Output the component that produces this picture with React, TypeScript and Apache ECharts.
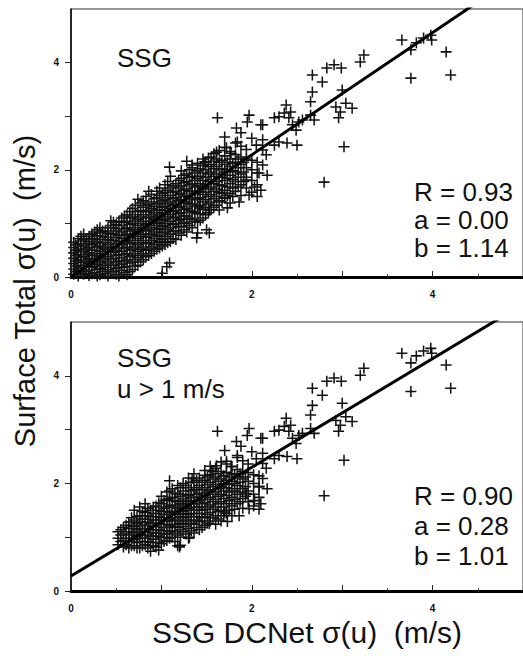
import React, { useEffect, useRef } from "react";
import * as echarts from "echarts";

// ---- data ----
// Dense cloud of the upper panel (all SSG samples), [DCNet sigma(u), Surface total sigma(u)]
const TOP_CLOUD: number[][] = [
  [0.03, 0.05], [0.03, 0.15], [0.03, 0.25], [0.03, 0.35], [0.03, 0.45], [0.03, 0.55], [0.03, 0.65],
  [0.08, 0.02], [0.08, 0.12], [0.08, 0.22], [0.08, 0.32], [0.08, 0.42], [0.08, 0.52], [0.08, 0.62], [0.08, 0.72],
  [0.14, 0.05], [0.14, 0.18], [0.14, 0.28], [0.14, 0.38], [0.14, 0.48], [0.14, 0.58], [0.14, 0.7], [0.14, 0.8],
  [0.2, 0.03], [0.2, 0.13], [0.2, 0.25], [0.2, 0.35], [0.2, 0.45], [0.2, 0.55], [0.2, 0.66], [0.2, 0.76],
  [0.26, 0.08], [0.26, 0.2], [0.26, 0.3], [0.26, 0.4], [0.26, 0.5], [0.26, 0.62], [0.26, 0.72], [0.26, 0.84],
  [0.32, 0.04], [0.32, 0.16], [0.32, 0.28], [0.32, 0.38], [0.32, 0.48], [0.32, 0.58], [0.32, 0.7], [0.32, 0.82], [0.32, 0.92],
  [0.38, 0.06], [0.38, 0.18], [0.38, 0.3], [0.38, 0.42], [0.38, 0.52], [0.38, 0.64], [0.38, 0.74], [0.38, 0.86],
  [0.44, 0.1], [0.44, 0.22], [0.44, 0.34], [0.44, 0.46], [0.44, 0.56], [0.44, 0.68], [0.44, 0.8], [0.44, 0.96], [0.44, 1.05],
  [0.5, 0.05], [0.5, 0.16], [0.5, 0.28], [0.5, 0.4], [0.5, 0.5], [0.5, 0.62], [0.5, 0.74], [0.5, 0.86], [0.5, 0.98],
  [0.56, 0.12], [0.56, 0.24], [0.56, 0.36], [0.56, 0.48], [0.56, 0.6], [0.56, 0.72], [0.56, 0.84], [0.56, 0.96], [0.56, 1.1],
  [0.62, 0.04], [0.62, 0.2], [0.62, 0.32], [0.62, 0.44], [0.62, 0.56], [0.62, 0.68], [0.62, 0.8], [0.62, 0.92], [0.62, 1.04], [0.62, 1.16],
  [0.68, 0.14], [0.68, 0.28], [0.68, 0.4], [0.68, 0.52], [0.68, 0.64], [0.68, 0.76], [0.68, 0.88], [0.68, 1.0], [0.68, 1.12], [0.68, 1.28],
  [0.74, 0.22], [0.74, 0.36], [0.74, 0.48], [0.74, 0.6], [0.74, 0.72], [0.74, 0.84], [0.74, 0.96], [0.74, 1.08], [0.74, 1.22], [0.74, 1.45],
  [0.8, 0.32], [0.8, 0.44], [0.8, 0.56], [0.8, 0.68], [0.8, 0.8], [0.8, 0.92], [0.8, 1.04], [0.8, 1.16], [0.8, 1.3], [0.8, 1.42],
  [0.86, 0.4], [0.86, 0.52], [0.86, 0.64], [0.86, 0.76], [0.86, 0.88], [0.86, 1.0], [0.86, 1.12], [0.86, 1.24], [0.86, 1.36], [0.86, 1.6],
  [0.92, 0.48], [0.92, 0.6], [0.92, 0.72], [0.92, 0.84], [0.92, 0.96], [0.92, 1.08], [0.92, 1.2], [0.92, 1.32], [0.92, 1.46],
  [0.98, 0.54], [0.98, 0.66], [0.98, 0.78], [0.98, 0.9], [0.98, 1.02], [0.98, 1.14], [0.98, 1.26], [0.98, 1.38], [0.98, 1.52], [0.98, 1.66],
  [1.04, 0.6], [1.04, 0.72], [1.04, 0.84], [1.04, 0.96], [1.04, 1.08], [1.04, 1.2], [1.04, 1.32], [1.04, 1.44], [1.04, 1.58], [1.04, 1.72],
  [1.1, 0.66], [1.1, 0.8], [1.1, 0.92], [1.1, 1.04], [1.1, 1.16], [1.1, 1.28], [1.1, 1.4], [1.1, 1.52], [1.1, 1.66], [1.1, 1.88],
  [1.16, 0.7], [1.16, 0.86], [1.16, 1.0], [1.16, 1.12], [1.16, 1.24], [1.16, 1.36], [1.16, 1.48], [1.16, 1.6], [1.16, 1.74],
  [1.22, 0.78], [1.22, 0.94], [1.22, 1.08], [1.22, 1.2], [1.22, 1.32], [1.22, 1.44], [1.22, 1.56], [1.22, 1.7], [1.22, 1.84], [1.22, 1.98],
  [1.28, 0.84], [1.28, 1.0], [1.28, 1.14], [1.28, 1.28], [1.28, 1.4], [1.28, 1.52], [1.28, 1.64], [1.28, 1.78], [1.28, 1.92], [1.28, 2.16],
  [1.34, 0.92], [1.34, 1.08], [1.34, 1.22], [1.34, 1.36], [1.34, 1.48], [1.34, 1.6], [1.34, 1.74], [1.34, 1.88], [1.34, 2.04],
  [1.4, 0.82], [1.4, 1.02], [1.4, 1.18], [1.4, 1.32], [1.4, 1.46], [1.4, 1.58], [1.4, 1.7], [1.4, 1.84], [1.4, 1.98], [1.4, 2.12],
  [1.46, 1.1], [1.46, 1.26], [1.46, 1.4], [1.46, 1.54], [1.46, 1.66], [1.46, 1.8], [1.46, 1.94], [1.46, 2.08], [1.46, 2.2],
  [1.52, 1.2], [1.52, 1.36], [1.52, 1.5], [1.52, 1.64], [1.52, 1.78], [1.52, 1.92], [1.52, 2.06], [1.52, 2.22],
  [1.58, 1.3], [1.58, 1.46], [1.58, 1.6], [1.58, 1.74], [1.58, 1.88], [1.58, 2.02], [1.58, 2.16], [1.58, 2.3],
  [1.64, 1.25], [1.64, 1.42], [1.64, 1.58], [1.64, 1.72], [1.64, 1.86], [1.64, 2.0], [1.64, 2.14], [1.64, 2.36],
  [1.7, 1.48], [1.7, 1.62], [1.7, 1.8], [1.7, 1.96], [1.7, 2.1], [1.7, 2.26], [1.7, 2.42],
  [1.76, 1.38], [1.76, 1.56], [1.76, 1.74], [1.76, 1.9], [1.76, 2.06], [1.76, 2.2], [1.76, 2.34],
  [1.82, 1.6], [1.82, 1.78], [1.82, 1.96], [1.82, 2.14], [1.82, 2.28], [1.82, 2.5],
  [1.88, 1.52], [1.88, 1.72], [1.88, 1.92], [1.88, 2.1], [1.88, 2.24], [1.88, 2.44],
  [1.94, 1.66], [1.94, 1.86], [1.94, 2.04], [1.94, 2.2], [1.94, 2.38],
  [2.0, 1.58], [2.0, 1.8], [2.0, 2.0], [2.0, 2.18],
  [2.06, 1.5], [2.06, 1.72], [2.06, 1.94], [2.06, 2.14],
  [1.01, 0.07], [1.06, 0.19], [1.09, 0.26], [1.39, 0.73], [1.5, 0.88], [1.53, 0.82],
];

// Interleaved samples filling the dark core of the upper panel
const TOP_CORE: number[][] = [
  [0.05, 0.1], [0.05, 0.2], [0.05, 0.3], [0.05, 0.4], [0.05, 0.5], [0.05, 0.6],
  [0.11, 0.07], [0.11, 0.17], [0.11, 0.27], [0.11, 0.37], [0.11, 0.47], [0.11, 0.57], [0.11, 0.67], [0.11, 0.76],
  [0.17, 0.1], [0.17, 0.22], [0.17, 0.32], [0.17, 0.42], [0.17, 0.52], [0.17, 0.62], [0.17, 0.72],
  [0.23, 0.06], [0.23, 0.18], [0.23, 0.3], [0.23, 0.4], [0.23, 0.5], [0.23, 0.6], [0.23, 0.7], [0.23, 0.8],
  [0.29, 0.02], [0.29, 0.14], [0.29, 0.24], [0.29, 0.34], [0.29, 0.44], [0.29, 0.56], [0.29, 0.66], [0.29, 0.77], [0.29, 0.88],
  [0.35, 0.1], [0.35, 0.22], [0.35, 0.34], [0.35, 0.44], [0.35, 0.54], [0.35, 0.64], [0.35, 0.76], [0.35, 0.86],
  [0.41, 0.02], [0.41, 0.14], [0.41, 0.26], [0.41, 0.38], [0.41, 0.48], [0.41, 0.6], [0.41, 0.7], [0.41, 0.82], [0.41, 0.92],
  [0.47, 0.1], [0.47, 0.22], [0.47, 0.34], [0.47, 0.46], [0.47, 0.56], [0.47, 0.68], [0.47, 0.8], [0.47, 0.92], [0.47, 1.02],
  [0.53, 0.02], [0.53, 0.18], [0.53, 0.3], [0.53, 0.42], [0.53, 0.54], [0.53, 0.66], [0.53, 0.78], [0.53, 0.9], [0.53, 1.04],
  [0.59, 0.08], [0.59, 0.18], [0.59, 0.3], [0.59, 0.42], [0.59, 0.54], [0.59, 0.66], [0.59, 0.78], [0.59, 0.9], [0.59, 1.02], [0.59, 1.14],
  [0.65, 0.1], [0.65, 0.26], [0.65, 0.38], [0.65, 0.5], [0.65, 0.62], [0.65, 0.74], [0.65, 0.86], [0.65, 0.98], [0.65, 1.1], [0.65, 1.22],
  [0.71, 0.2], [0.71, 0.32], [0.71, 0.44], [0.71, 0.56], [0.71, 0.68], [0.71, 0.8], [0.71, 0.92], [0.71, 1.04], [0.71, 1.16], [0.71, 1.34],
  [0.77, 0.28], [0.77, 0.4], [0.77, 0.52], [0.77, 0.64], [0.77, 0.76], [0.77, 0.88], [0.77, 1.0], [0.77, 1.12], [0.77, 1.24], [0.77, 1.38],
  [0.83, 0.38], [0.83, 0.5], [0.83, 0.62], [0.83, 0.74], [0.83, 0.86], [0.83, 0.98], [0.83, 1.1], [0.83, 1.22], [0.83, 1.34], [0.83, 1.5],
  [0.89, 0.44], [0.89, 0.56], [0.89, 0.68], [0.89, 0.8], [0.89, 0.92], [0.89, 1.04], [0.89, 1.16], [0.89, 1.28], [0.89, 1.4], [0.89, 1.54],
  [0.95, 0.52], [0.95, 0.64], [0.95, 0.76], [0.95, 0.88], [0.95, 1.0], [0.95, 1.12], [0.95, 1.24], [0.95, 1.36], [0.95, 1.48], [0.95, 1.6],
  [1.01, 0.58], [1.01, 0.7], [1.01, 0.82], [1.01, 0.94], [1.01, 1.06], [1.01, 1.18], [1.01, 1.3], [1.01, 1.42], [1.01, 1.56],
  [1.07, 0.64], [1.07, 0.76], [1.07, 0.88], [1.07, 1.0], [1.07, 1.12], [1.07, 1.24], [1.07, 1.36], [1.07, 1.48], [1.07, 1.62], [1.07, 1.78],
  [1.13, 0.72], [1.13, 0.86], [1.13, 0.98], [1.13, 1.1], [1.13, 1.22], [1.13, 1.34], [1.13, 1.46], [1.13, 1.58], [1.13, 1.7],
  [1.19, 0.82], [1.19, 0.94], [1.19, 1.06], [1.19, 1.18], [1.19, 1.3], [1.19, 1.42], [1.19, 1.54], [1.19, 1.66], [1.19, 1.8],
  [1.25, 0.88], [1.25, 1.02], [1.25, 1.14], [1.25, 1.26], [1.25, 1.38], [1.25, 1.5], [1.25, 1.62], [1.25, 1.76], [1.25, 1.9],
  [1.31, 0.96], [1.31, 1.1], [1.31, 1.24], [1.31, 1.36], [1.31, 1.48], [1.31, 1.6], [1.31, 1.72], [1.31, 1.86], [1.31, 2.0],
  [1.37, 1.04], [1.37, 1.2], [1.37, 1.32], [1.37, 1.44], [1.37, 1.56], [1.37, 1.68], [1.37, 1.8], [1.37, 1.94],
  [1.43, 1.06], [1.43, 1.18], [1.43, 1.34], [1.43, 1.48], [1.43, 1.6], [1.43, 1.74], [1.43, 1.88], [1.43, 2.02],
  [1.49, 1.16], [1.49, 1.3], [1.49, 1.44], [1.49, 1.58], [1.49, 1.72], [1.49, 1.86], [1.49, 2.0], [1.49, 2.14],
  [1.55, 1.26], [1.55, 1.4], [1.55, 1.54], [1.55, 1.68], [1.55, 1.82], [1.55, 1.96], [1.55, 2.1],
  [1.61, 1.34], [1.61, 1.5], [1.61, 1.64], [1.61, 1.78], [1.61, 1.92], [1.61, 2.06], [1.61, 2.2],
  [1.67, 1.4], [1.67, 1.56], [1.67, 1.7], [1.67, 1.86], [1.67, 2.02], [1.67, 2.18],
  [1.73, 1.52], [1.73, 1.68], [1.73, 1.84], [1.73, 2.0], [1.73, 2.14],
  [1.79, 1.5], [1.79, 1.66], [1.79, 1.82], [1.79, 1.98], [1.79, 2.12],
  [1.85, 1.68], [1.85, 1.86], [1.85, 2.04], [1.85, 2.2],
  [1.91, 1.78], [1.91, 1.96], [1.91, 2.14],
];

// Dense cloud of the lower panel (u > 1 m/s)
const BOTTOM_CLOUD: number[][] = [
  [0.52, 0.86], [0.52, 0.98], [0.52, 1.1],
  [0.58, 0.82], [0.58, 0.94], [0.58, 1.06], [0.58, 1.18],
  [0.64, 0.8], [0.64, 0.92], [0.64, 1.04], [0.64, 1.16], [0.64, 1.28],
  [0.7, 0.84], [0.7, 0.96], [0.7, 1.08], [0.7, 1.2], [0.7, 1.32], [0.7, 1.5],
  [0.76, 0.8], [0.76, 0.92], [0.76, 1.04], [0.76, 1.16], [0.76, 1.28], [0.76, 1.4], [0.76, 1.56],
  [0.82, 0.86], [0.82, 0.98], [0.82, 1.1], [0.82, 1.22], [0.82, 1.34], [0.82, 1.46], [0.82, 1.62],
  [0.88, 0.74], [0.88, 0.9], [0.88, 1.02], [0.88, 1.14], [0.88, 1.26], [0.88, 1.38], [0.88, 1.5],
  [0.94, 0.82], [0.94, 0.96], [0.94, 1.08], [0.94, 1.2], [0.94, 1.32], [0.94, 1.44], [0.94, 1.58],
  [1.0, 0.88], [1.0, 1.0], [1.0, 1.12], [1.0, 1.24], [1.0, 1.36], [1.0, 1.48], [1.0, 1.62], [1.0, 1.76],
  [1.06, 0.94], [1.06, 1.06], [1.06, 1.18], [1.06, 1.3], [1.06, 1.42], [1.06, 1.56], [1.06, 1.7], [1.06, 1.84],
  [1.12, 1.0], [1.12, 1.12], [1.12, 1.24], [1.12, 1.36], [1.12, 1.48], [1.12, 1.6], [1.12, 1.74], [1.12, 1.9],
  [1.18, 0.84], [1.18, 1.04], [1.18, 1.18], [1.18, 1.3], [1.18, 1.42], [1.18, 1.54], [1.18, 1.66], [1.18, 1.8], [1.18, 1.96],
  [1.24, 1.1], [1.24, 1.24], [1.24, 1.36], [1.24, 1.48], [1.24, 1.6], [1.24, 1.72], [1.24, 1.86], [1.24, 2.0],
  [1.3, 0.98], [1.3, 1.16], [1.3, 1.3], [1.3, 1.42], [1.3, 1.54], [1.3, 1.66], [1.3, 1.78], [1.3, 1.92], [1.3, 2.1],
  [1.36, 1.08], [1.36, 1.24], [1.36, 1.38], [1.36, 1.5], [1.36, 1.62], [1.36, 1.74], [1.36, 1.88], [1.36, 2.02], [1.36, 2.18],
  [1.42, 1.14], [1.42, 1.3], [1.42, 1.44], [1.42, 1.56], [1.42, 1.68], [1.42, 1.82], [1.42, 1.96], [1.42, 2.1],
  [1.48, 1.22], [1.48, 1.38], [1.48, 1.52], [1.48, 1.64], [1.48, 1.78], [1.48, 1.92], [1.48, 2.06], [1.48, 2.24],
  [1.54, 1.3], [1.54, 1.46], [1.54, 1.6], [1.54, 1.74], [1.54, 1.88], [1.54, 2.02], [1.54, 2.16], [1.54, 2.32],
  [1.6, 1.24], [1.6, 1.4], [1.6, 1.56], [1.6, 1.7], [1.6, 1.84], [1.6, 1.98], [1.6, 2.12], [1.6, 2.28],
  [1.66, 1.3], [1.66, 1.5], [1.66, 1.66], [1.66, 1.8], [1.66, 1.94], [1.66, 2.08], [1.66, 2.22], [1.66, 2.4],
  [1.72, 1.44], [1.72, 1.62], [1.72, 1.78], [1.72, 1.92], [1.72, 2.06], [1.72, 2.2], [1.72, 2.36],
  [1.78, 1.4], [1.78, 1.58], [1.78, 1.74], [1.78, 1.9], [1.78, 2.04], [1.78, 2.18], [1.78, 2.32],
  [1.84, 1.62], [1.84, 1.8], [1.84, 1.96], [1.84, 2.12], [1.84, 2.26], [1.84, 2.48],
  [1.9, 1.54], [1.9, 1.72], [1.9, 1.9], [1.9, 2.08], [1.9, 2.22], [1.9, 2.42],
  [1.96, 1.66], [1.96, 1.86], [1.96, 2.04], [1.96, 2.2], [1.96, 2.36],
  [2.02, 1.58], [2.02, 1.8], [2.02, 2.0], [2.02, 2.16],
  [2.08, 1.52], [2.08, 1.74], [2.08, 1.94], [2.08, 2.14],
  [1.21, 0.85], [1.31, 1.0], [1.2, 0.82],
];

// Interleaved samples filling the dark core of the lower panel
const BOTTOM_CORE: number[][] = [
  [0.55, 0.92], [0.55, 1.04], [0.55, 1.14],
  [0.61, 0.86], [0.61, 0.98], [0.61, 1.1], [0.61, 1.22],
  [0.67, 0.84], [0.67, 0.98], [0.67, 1.1], [0.67, 1.22], [0.67, 1.36],
  [0.73, 0.8], [0.73, 0.9], [0.73, 1.02], [0.73, 1.14], [0.73, 1.26], [0.73, 1.38],
  [0.79, 0.84], [0.79, 0.98], [0.79, 1.1], [0.79, 1.22], [0.79, 1.34], [0.79, 1.48],
  [0.85, 0.8], [0.85, 0.92], [0.85, 1.04], [0.85, 1.16], [0.85, 1.28], [0.85, 1.4], [0.85, 1.54],
  [0.91, 0.84], [0.91, 0.96], [0.91, 1.08], [0.91, 1.2], [0.91, 1.32], [0.91, 1.44], [0.91, 1.56],
  [0.97, 0.76], [0.97, 0.9], [0.97, 1.02], [0.97, 1.14], [0.97, 1.26], [0.97, 1.38], [0.97, 1.5], [0.97, 1.64],
  [1.03, 0.92], [1.03, 1.06], [1.03, 1.18], [1.03, 1.3], [1.03, 1.42], [1.03, 1.54], [1.03, 1.68],
  [1.09, 0.98], [1.09, 1.1], [1.09, 1.22], [1.09, 1.34], [1.09, 1.46], [1.09, 1.58], [1.09, 1.72], [1.09, 1.86],
  [1.15, 0.92], [1.15, 1.08], [1.15, 1.2], [1.15, 1.32], [1.15, 1.44], [1.15, 1.56], [1.15, 1.68], [1.15, 1.82],
  [1.21, 1.0], [1.21, 1.14], [1.21, 1.26], [1.21, 1.38], [1.21, 1.5], [1.21, 1.62], [1.21, 1.76], [1.21, 1.92],
  [1.27, 1.06], [1.27, 1.2], [1.27, 1.32], [1.27, 1.44], [1.27, 1.56], [1.27, 1.68], [1.27, 1.8], [1.27, 1.96],
  [1.33, 1.12], [1.33, 1.26], [1.33, 1.38], [1.33, 1.5], [1.33, 1.62], [1.33, 1.74], [1.33, 1.86], [1.33, 2.02],
  [1.39, 1.18], [1.39, 1.32], [1.39, 1.44], [1.39, 1.56], [1.39, 1.68], [1.39, 1.8], [1.39, 1.92], [1.39, 2.06],
  [1.45, 1.18], [1.45, 1.36], [1.45, 1.5], [1.45, 1.62], [1.45, 1.74], [1.45, 1.88], [1.45, 2.02],
  [1.51, 1.26], [1.51, 1.42], [1.51, 1.56], [1.51, 1.7], [1.51, 1.84], [1.51, 1.98], [1.51, 2.12],
  [1.57, 1.36], [1.57, 1.52], [1.57, 1.66], [1.57, 1.8], [1.57, 1.94], [1.57, 2.08], [1.57, 2.22],
  [1.63, 1.34], [1.63, 1.48], [1.63, 1.62], [1.63, 1.76], [1.63, 1.9], [1.63, 2.04], [1.63, 2.18],
  [1.69, 1.4], [1.69, 1.56], [1.69, 1.72], [1.69, 1.86], [1.69, 2.0], [1.69, 2.14],
  [1.75, 1.5], [1.75, 1.68], [1.75, 1.84], [1.75, 1.98], [1.75, 2.12],
  [1.81, 1.52], [1.81, 1.7], [1.81, 1.86], [1.81, 2.0], [1.81, 2.16],
  [1.87, 1.66], [1.87, 1.84], [1.87, 2.02], [1.87, 2.18],
  [1.93, 1.76], [1.93, 1.94], [1.93, 2.12],
];

// Scattered points common to both panels
const SHARED_POINTS: number[][] = [
  [1.62, 2.97], [1.97, 3.02], [1.95, 2.89], [2.1, 2.84], [1.83, 2.78], [1.88, 2.69], [1.7, 2.61],
  [1.84, 2.52], [2.0, 2.59], [2.05, 2.46], [1.61, 2.33], [1.72, 2.41], [1.77, 2.31], [1.55, 2.24],
  [1.09, 2.05], [1.34, 2.09], [1.48, 2.15], [1.94, 1.81], [2.08, 1.94], [2.03, 1.68], [1.97, 1.53],
  [1.86, 1.4], [1.7, 1.47], [1.73, 1.29], [1.53, 1.25], [1.42, 1.29],
  [3.66, 4.42], [3.76, 4.24], [3.82, 4.37], [3.9, 4.46], [3.98, 4.51], [3.99, 4.42], [4.15, 4.2],
  [3.76, 3.71], [4.2, 3.77], [3.24, 4.14], [3.2, 4.01], [2.67, 3.77], [2.78, 3.64],
  [2.83, 3.9], [2.91, 3.96], [2.99, 3.9],
  [2.67, 3.45], [2.65, 3.27], [3.0, 3.49], [2.93, 3.17], [2.98, 3.08], [3.04, 3.24], [3.11, 3.15],
  [2.96, 2.97], [3.02, 2.43], [2.8, 1.77], [2.38, 3.21], [2.36, 3.06], [2.43, 3.08], [2.41, 2.97],
  [2.25, 2.97], [2.3, 2.99], [2.12, 2.84], [2.45, 2.84], [2.52, 2.89], [2.56, 2.93], [2.69, 2.93],
  [2.65, 3.02], [2.49, 2.74], [2.3, 2.52], [2.39, 2.5], [2.5, 2.46], [2.25, 2.46], [2.12, 2.56],
  [2.12, 2.37], [2.16, 2.28], [2.12, 2.09], [2.17, 1.9], [2.1, 1.62],
];

// regression constants [a, b]  (y = a + b x)
const TOP_FIT = [0.0, 1.14];
const BOTTOM_FIT = [0.28, 1.01];
const TOP_STATS = ["R = 0.93", "a = 0.00", "b = 1.14"];
const BOTTOM_STATS = ["R = 0.90", "a = 0.28", "b = 1.01"];
const TOP_LABELS = ["SSG"];
const BOTTOM_LABELS = ["SSG", "u > 1 m/s"];
const TICK_LABELS = [0, 2, 4];
const X_TITLE = "SSG DCNet \u03c3(u)  (m/s)";
const Y_TITLE = "Surface Total \u03c3(u)  (m/s)";

const FONT = "'Liberation Sans', Arial, Helvetica, sans-serif";
const PLUS = "path://M4.3,0h1.4v4.3h4.3v1.4h-4.3v4.3h-1.4v-4.3h-4.3v-1.4h4.3z";

function axisPair(gridIndex: number) {
  const labelFmt = (v: number) => (TICK_LABELS.indexOf(v) >= 0 ? String(v) : "");
  const x = {
    type: "value",
    gridIndex,
    min: 0,
    max: 5,
    interval: 1,
    axisLine: { show: true, onZero: false, lineStyle: { color: "#000", width: 3 } },
    axisTick: { show: true, inside: true, length: 6, lineStyle: { color: "#222", width: 1 } },
    minorTick: { show: true, splitNumber: 2, length: 3, lineStyle: { color: "#444", width: 1 } },
    splitLine: { show: false },
    axisLabel: {
      formatter: labelFmt,
      margin: 12,
      color: "#111",
      fontSize: 10,
      fontWeight: "bold",
      fontFamily: FONT,
      showMaxLabel: false,
    },
  };
  const y = {
    type: "value",
    gridIndex,
    min: 0,
    max: 5,
    interval: 1,
    axisLine: { show: true, onZero: false, lineStyle: { color: "#000", width: 1.5 } },
    axisTick: { show: true, inside: false, length: 6, lineStyle: { color: "#222", width: 1 } },
    splitLine: { show: false },
    axisLabel: {
      formatter: labelFmt,
      margin: 12,
      color: "#111",
      fontSize: 10,
      fontWeight: "bold",
      fontFamily: FONT,
      showMaxLabel: false,
    },
  };
  return { x, y };
}

function textEl(text: string, x: number, y: number, extra: any = {}) {
  return {
    type: "text",
    x,
    y,
    silent: true,
    ...extra,
    style: {
      text,
      fill: "#111",
      fontSize: 26,
      fontFamily: FONT,
      align: "left",
      verticalAlign: "middle",
      textAlign: "left",
      textVerticalAlign: "middle",
      ...(extra.style || {}),
    },
  };
}

export default function App() {
  const ref = useRef<HTMLDivElement>(null);

  useEffect(() => {
    if (!ref.current) return;
    const chart = echarts.init(ref.current, null, { renderer: "svg" });
    const a0 = axisPair(0);
    const a1 = axisPair(1);

    const scatterStyle = {
      type: "scatter",
      symbol: PLUS,
      symbolSize: 11,
      itemStyle: { color: "#121212", opacity: 1 },
      silent: true,
    };
    const lineStyle = {
      type: "line",
      showSymbol: false,
      symbol: "none",
      clip: true,
      lineStyle: { color: "#000", width: 3 },
      silent: true,
    };

    const graphics: any[] = [];
    graphics.push(textEl(TOP_LABELS[0], 117, 58));
    graphics.push(textEl(BOTTOM_LABELS[0], 117, 358));
    graphics.push(textEl(BOTTOM_LABELS[1], 117, 389));
    TOP_STATS.forEach((t, i) => graphics.push(textEl(t, 414, 192 + i * 28)));
    BOTTOM_STATS.forEach((t, i) => graphics.push(textEl(t, 414, 496 + i * 30)));
    graphics.push(
      textEl(X_TITLE, 307, 632, { style: { fontSize: 30, align: "center", textAlign: "center" } })
    );
    graphics.push(
      textEl(Y_TITLE, 25, 291, {
        rotation: Math.PI / 2,
        style: { fontSize: 29, align: "center", textAlign: "center" },
      })
    );

    chart.setOption({
      animation: false,
      backgroundColor: "#fff",
      grid: [
        { left: 71, top: 9, width: 454, height: 268, show: true, borderColor: "#333", borderWidth: 1 },
        { left: 71, top: 322, width: 454, height: 269, show: true, borderColor: "#333", borderWidth: 1 },
      ],
      xAxis: [a0.x, a1.x],
      yAxis: [a0.y, a1.y],
      series: [
        {
          ...scatterStyle,
          xAxisIndex: 0,
          yAxisIndex: 0,
          data: TOP_CLOUD.concat(TOP_CORE, SHARED_POINTS),
        },
        {
          ...scatterStyle,
          xAxisIndex: 1,
          yAxisIndex: 1,
          data: BOTTOM_CLOUD.concat(BOTTOM_CORE, SHARED_POINTS),
        },
        {
          ...lineStyle,
          xAxisIndex: 0,
          yAxisIndex: 0,
          data: [[0, TOP_FIT[0]], [5, TOP_FIT[0] + 5 * TOP_FIT[1]]],
        },
        {
          ...lineStyle,
          xAxisIndex: 1,
          yAxisIndex: 1,
          data: [[0, BOTTOM_FIT[0]], [5, BOTTOM_FIT[0] + 5 * BOTTOM_FIT[1]]],
        },
      ],
      graphic: graphics,
    });
    return () => chart.dispose();
  }, []);

  return (
    <div
      ref={ref}
      style={{ position: "fixed", left: 0, top: 0, width: 523, height: 658, background: "#fff" }}
    />
  );
}
